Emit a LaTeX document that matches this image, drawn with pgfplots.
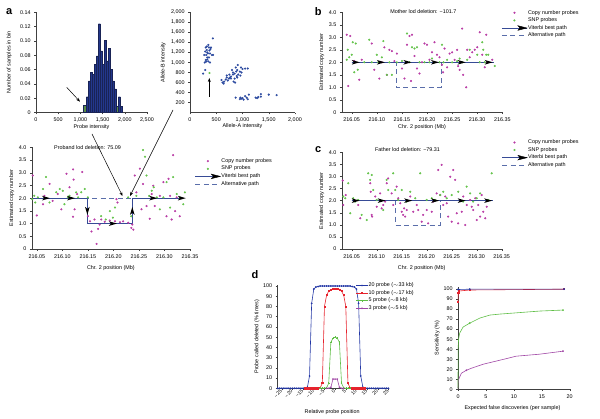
\documentclass[border=0pt]{standalone}
\usepackage{pgfplots}
\pgfplotsset{compat=1.18}
\usetikzlibrary{arrows.meta}
\usepackage{fontspec}
\setmainfont{Liberation Sans}
\newcommand\fs{\fontsize{5.4}{6.2}\selectfont}

\definecolor{cnv}{RGB}{185,60,165}
\definecolor{snp}{RGB}{100,195,75}
\definecolor{vit}{RGB}{55,75,150}
\definecolor{alt}{RGB}{90,110,170}
\definecolor{barF}{RGB}{35,55,140}
\definecolor{barE}{RGB}{25,35,85}
\definecolor{gbar}{RGB}{90,140,70}
\definecolor{pts}{RGB}{45,75,160}
\definecolor{dblue}{RGB}{35,55,165}
\definecolor{dred}{RGB}{230,35,45}
\definecolor{dgreen}{RGB}{95,190,70}
\definecolor{dpurp}{RGB}{160,70,165}

% arrowhead marks for the Viterbi path
\pgfdeclareplotmark{arR}{%
  \pgfpathmoveto{\pgfqpoint{4pt}{0pt}}\pgfpathlineto{\pgfqpoint{-4pt}{2.3pt}}%
  \pgfpathlineto{\pgfqpoint{-2pt}{0pt}}\pgfpathlineto{\pgfqpoint{-4pt}{-2.3pt}}%
  \pgfpathclose\pgfusepathqfill}
\pgfdeclareplotmark{arD}{%
  \pgfpathmoveto{\pgfqpoint{0pt}{-4pt}}\pgfpathlineto{\pgfqpoint{2.3pt}{4pt}}%
  \pgfpathlineto{\pgfqpoint{0pt}{2pt}}\pgfpathlineto{\pgfqpoint{-2.3pt}{4pt}}%
  \pgfpathclose\pgfusepathqfill}
\pgfdeclareplotmark{arU}{%
  \pgfpathmoveto{\pgfqpoint{0pt}{4pt}}\pgfpathlineto{\pgfqpoint{2.3pt}{-4pt}}%
  \pgfpathlineto{\pgfqpoint{0pt}{-2pt}}\pgfpathlineto{\pgfqpoint{-2.3pt}{-4pt}}%
  \pgfpathclose\pgfusepathqfill}

\pgfplotsset{
  base/.style={scale only axis, anchor=south west, axis lines=left,
    axis line style={-,black!75,line width=0.4pt}, tick align=outside,
    major tick length=1.8pt, tick style={black!75,line width=0.4pt},
    clip=false, font=\fs, ticklabel style={font=\fs}, label style={font=\fs},
    /pgf/number format/assume math mode=true,
    xlabel style={anchor=center}, ylabel style={anchor=center},
    legend cell align=left,
    legend style={draw=none, fill=none, inner sep=0pt, outer sep=0pt,
      row sep=0.6pt, font=\fs, nodes={inner sep=0.8pt}}},
  leg25/.style={legend image code/.code={\draw[mark repeat=2,mark phase=2,##1]
    plot coordinates {(0pt,0pt) (12.5pt,0pt) (25pt,0pt)};}},
  leg11/.style={legend image code/.code={\draw[mark repeat=2,mark phase=2,##1]
    plot coordinates {(0pt,0pt) (5.5pt,0pt) (11pt,0pt)};}},
  cnplot/.style={base, ymin=0, ymax=4, ytick={0,0.5,1,1.5,2,2.5,3,3.5,4},
    yticklabels={0,0.5,1.0,1.5,2.0,2.5,3.0,3.5,4.0},
    xtick={216.05,216.1,216.15,216.2,216.25,216.3,216.35},
    xticklabels={216.05,216.10,216.15,216.20,216.25,216.30,216.35},
    xlabel={Chr. 2 position (Mb)}, ylabel={Estimated copy number}, leg25},
  cn/.style={only marks, mark=*, mark size=0.85pt, cnv},
  sn/.style={only marks, mark=*, mark size=0.85pt, snp},
  vitline/.style={vit, line width=0.6pt, no marks},
  altline/.style={alt, line width=0.5pt, dash pattern=on 5pt off 3.5pt, no marks},
  vitleg/.style={legend image code/.code={\draw[vit,line width=0.6pt] (0pt,0pt)--(25pt,0pt);
    \fill[black] (25pt,0pt)--(16pt,2.3pt)--(18pt,0pt)--(16pt,-2.3pt)--cycle;}},
}

\begin{document}
\begin{tikzpicture}[x=1pt,y=1pt,font=\fs]
\useasboundingbox (0,0) rectangle (600,419);

% ---------- a: histogram
\begin{axis}[base, at={(36pt,306.5pt)}, width=111pt, height=100.2pt,
  xmin=0, xmax=2500, ymin=0, ymax=0.14,
  xtick={0,500,1000,1500,2000,2500}, xticklabels={0,500,{1,000},{1,500},{2,000},{2,500}},
  ytick={0,0.02,0.04,0.06,0.08,0.1,0.12,0.14},
  yticklabels={0,0.02,0.04,0.06,0.08,0.10,0.12,0.14},
  xlabel={Probe intensity}, ylabel={Number of samples in bin},
  xlabel style={at={(axis description cs:0.5,-0.142)}},
  ylabel style={at={(axis description cs:-0.241,0.5)}}]
\addplot[ybar interval, fill=gbar, draw=barE, line width=0.3pt] coordinates {(1060,0.010) (1135,0.010)};
\addplot[ybar interval, fill=barF, draw=barE, line width=0.3pt] coordinates {
  (1135,0.022) (1180,0.044) (1225,0.056) (1270,0.053) (1315,0.0675) (1360,0.079)
  (1405,0.124) (1450,0.086) (1495,0.0675) (1540,0.101) (1585,0.072) (1630,0.090)
  (1675,0.060) (1720,0.044) (1765,0.033) (1810,0.033)};
\addplot[ybar interval, fill=gbar, draw=barE, line width=0.3pt] coordinates {(1810,0.009) (1855,0.009)};
\addplot[ybar interval, fill=barF, draw=barE, line width=0.3pt] coordinates {(1855,0.022) (1900,0.009) (1945,0.009)};
\end{axis}

% ---------- a: allele scatter
\begin{axis}[base, at={(190pt,306.3pt)}, width=105pt, height=100.4pt,
  xmin=0, xmax=2000, ymin=0, ymax=2000,
  xtick={0,500,1000,1500,2000}, xticklabels={0,500,{1,000},{1,500},{2,000}},
  ytick={200,400,...,2000},
  yticklabels={200,400,600,800,{1,000},{1,200},{1,400},{1,600},{1,800},{2,000}},
  xlabel={Allele-A intensity}, ylabel={Allele-B intensity},
  xlabel style={at={(axis description cs:0.5,-0.132)}},
  ylabel style={at={(axis description cs:-0.254,0.5)}}]
\addplot[only marks, mark=*, mark size=0.85pt, pts] coordinates {
  (270,1150) (300,1300) (320,1250) (330,1200) (350,1350) (360,1100) (380,1000)
  (300,1050) (340,1180) (400,1300) (420,1150) (310,1020) (290,1220) (370,1240)
  (330,1100) (350,1020) (380,1180) (440,1150) (390,1270) (320,1320) (360,1300)
  (280,1000) (434,1480) (250,780) (290,850) (330,1060) (310,1150)
  (600,650) (620,600) (650,620) (700,700) (720,640) (750,760) (780,720) (800,850)
  (820,800) (850,780) (870,900) (880,820) (900,850) (920,760) (950,820) (970,900)
  (1050,880) (780,680) (830,620) (860,600) (700,740) (760,700) (680,660) (900,700)
  (850,680) (910,950) (640,580) (980,800) (890,730) (1000,870) (1100,880) (820,760)
  (740,680) (960,740)
  (870,300) (950,270) (980,280) (1000,290) (1050,330) (1080,300) (1100,270)
  (1250,300) (1300,310) (1350,320) (1350,370) (1500,360) (1650,350) (960,300)
  (1020,260) (1120,360) (1280,290)};
\addplot[only marks, mark=*, mark size=0.85pt, snp] coordinates {(370,790)};
\end{axis}

% ---------- b: mother
\begin{axis}[cnplot, at={(341.7pt,306.7pt)}, width=160.6pt, height=100pt,
  xmin=216.03, xmax=216.35,
  xlabel style={at={(axis description cs:0.5,-0.144)}},
  ylabel style={at={(axis description cs:-0.125,0.5)}},
  legend style={at={(axis description cs:0.996,1.03)}, anchor=north west}]
\addlegendimage{cn}\addlegendentry{Copy number probes}
\addlegendimage{sn}\addlegendentry{SNP probes}
\addlegendimage{vitleg}\addlegendentry{Viterbi best path}
\addlegendimage{altline}\addlegendentry{Alternative path}
\addplot[altline, forget plot] coordinates {(216.05,2) (216.138,2) (216.138,1) (216.228,1) (216.228,2) (216.333,2)};
\addplot[vitline, forget plot] coordinates {(216.05,2) (216.333,2)};
\addplot[cn, forget plot] coordinates {
  (216.04,3.1) (216.043,1.05) (216.047,3.05) (216.055,2.05) (216.065,1.3) (216.07,2.1)
  (216.09,2.75) (216.095,1.7) (216.105,1.35) (216.11,2.0) (216.115,2.6) (216.12,1.5)
  (216.125,2.5) (216.13,2.45) (216.135,2.05) (216.14,2.35) (216.15,1.75) (216.155,1.35)
  (216.16,2.7) (216.165,3.05) (216.168,1.25) (216.17,3.1) (216.175,2.25) (216.18,1.75)
  (216.185,1.55) (216.19,2.0) (216.195,2.75) (216.2,2.7) (216.205,2.1) (216.21,2.4)
  (216.215,2.8) (216.22,2.3) (216.225,2.2) (216.23,1.9) (216.232,1.6) (216.235,2.55)
  (216.24,1.8) (216.245,2.35) (216.25,2.4) (216.255,2.1) (216.26,2.5) (216.262,1.85)
  (216.265,1.7) (216.27,3.35) (216.272,1.5) (216.278,1.0) (216.28,2.5) (216.285,2.2)
  (216.29,2.4) (216.295,2.5) (216.3,2.6) (216.305,3.2) (216.31,2.3) (216.315,1.8)
  (216.318,3.1) (216.32,2.0) (216.33,2.1)};
\addplot[sn, forget plot] coordinates {
  (216.04,2.1) (216.042,2.5) (216.045,2.2) (216.05,2.3) (216.052,2.8) (216.055,1.6)
  (216.058,2.75) (216.062,1.7) (216.075,2.0) (216.085,2.9) (216.09,2.0) (216.1,2.3)
  (216.103,2.0) (216.11,2.2) (216.113,2.85) (216.12,1.5) (216.125,2.0) (216.13,1.5)
  (216.14,2.0) (216.15,2.05) (216.16,3.15) (216.165,2.0) (216.17,2.6) (216.175,2.55)
  (216.18,2.6) (216.185,2.0) (216.195,2.0) (216.205,2.0) (216.21,2.15) (216.215,2.0)
  (216.225,2.0) (216.23,2.7) (216.233,2.0) (216.24,2.1) (216.25,2.0) (216.26,2.05)
  (216.265,2.15) (216.27,2.0) (216.28,2.1) (216.285,2.5) (216.3,2.3) (216.305,2.0)
  (216.31,2.8) (216.312,2.5) (216.315,2.0) (216.318,2.3) (216.322,2.3) (216.335,1.85)};
\addplot[only marks, mark=arR, black, forget plot] coordinates {
  (216.058,2) (216.108,2) (216.161,2) (216.216,2) (216.269,2) (216.323,2)};
\end{axis}

% ---------- a: proband
\begin{axis}[cnplot, at={(31.7pt,170pt)}, width=158.3pt, height=101.7pt,
  xmin=216.04, xmax=216.35,
  xlabel style={at={(axis description cs:0.5,-0.184)}},
  ylabel style={at={(axis description cs:-0.126,0.5)}},
  legend style={at={(axis description cs:1.032,0.898)}, anchor=north west}]
\addlegendimage{cn}\addlegendentry{Copy number probes}
\addlegendimage{sn}\addlegendentry{SNP probes}
\addlegendimage{vitleg}\addlegendentry{Viterbi best path}
\addlegendimage{altline}\addlegendentry{Alternative path}
\addplot[altline, forget plot] coordinates {(216.042,2) (216.335,2)};
\addplot[vitline, forget plot] coordinates {(216.042,2) (216.149,2) (216.149,1) (216.237,1) (216.237,2) (216.335,2)};
\addplot[cn, forget plot] coordinates {
  (216.042,2.89) (216.05,1.32) (216.062,1.76) (216.065,2.09) (216.075,2.56) (216.081,1.89)
  (216.091,2.16) (216.098,1.56) (216.108,2.96) (216.114,2.43) (216.121,3.13) (216.122,2.73)
  (216.121,1.27) (216.124,1.56) (216.129,2.16) (216.139,3.03) (216.15,1.29) (216.154,1.09)
  (216.157,0.69) (216.163,1.16) (216.167,0.20) (216.17,0.79) (216.173,0.96) (216.176,1.16)
  (216.183,1.07) (216.193,1.12) (216.203,1.09) (216.206,1.96) (216.208,1.83) (216.213,1.05)
  (216.219,1.09) (216.229,1.03) (216.235,0.83) (216.237,0.96) (216.239,0.76) (216.242,2.89)
  (216.245,2.23) (216.252,3.16) (216.255,1.56) (216.258,2.56) (216.265,1.69) (216.271,1.19)
  (216.275,2.16) (216.278,2.49) (216.281,1.69) (216.291,2.09) (216.298,2.63) (216.304,1.29)
  (216.308,2.76) (216.311,2.09) (216.314,1.16) (216.317,3.69) (216.321,1.49) (216.324,2.03)
  (216.33,1.29)};
\addplot[sn, forget plot] coordinates {
  (216.041,1.96) (216.045,2.09) (216.047,1.83) (216.052,2.03) (216.062,2.36) (216.068,2.83)
  (216.075,1.83) (216.088,2.23) (216.095,2.36) (216.101,2.29) (216.104,1.76) (216.111,2.03)
  (216.114,2.09) (216.127,2.23) (216.131,2.03) (216.137,2.23) (216.144,2.36) (216.15,2.03)
  (216.176,1.29) (216.185,1.16) (216.193,1.49) (216.199,1.23) (216.203,1.63) (216.229,2.03)
  (216.235,1.29) (216.245,2.09) (216.258,3.89) (216.262,3.63) (216.265,2.89) (216.27,2.09)
  (216.275,2.29) (216.279,2.43) (216.285,2.03) (216.291,1.56) (216.298,2.03) (216.304,2.63)
  (216.311,1.63) (216.317,2.83) (216.324,2.16) (216.33,2.03) (216.337,1.76) (216.34,2.23)};
\addplot[only marks, mark=arR, black, forget plot] coordinates {
  (216.068,2) (216.117,2) (216.199,1) (216.278,2) (216.334,2)};
\addplot[only marks, mark=arD, black, forget plot] coordinates {(216.149,1.5)};
\addplot[only marks, mark=arU, black, forget plot] coordinates {(216.237,1.5)};
\end{axis}

% ---------- c: father
\begin{axis}[cnplot, at={(341.7pt,170pt)}, width=160pt, height=96.7pt,
  xmin=216.03, xmax=216.35,
  xlabel style={at={(axis description cs:0.5,-0.193)}},
  ylabel style={at={(axis description cs:-0.125,0.5)}},
  legend style={at={(axis description cs:1.0,1.138)}, anchor=north west}]
\addlegendimage{cn}\addlegendentry{Copy number probes}
\addlegendimage{sn}\addlegendentry{SNP probes}
\addlegendimage{vitleg}\addlegendentry{Viterbi best path}
\addlegendimage{altline}\addlegendentry{Alternative path}
\addplot[altline, forget plot] coordinates {(216.05,2) (216.137,2) (216.137,1) (216.227,1) (216.227,2) (216.333,2)};
\addplot[vitline, forget plot] coordinates {(216.05,2) (216.333,2)};
\addplot[cn, forget plot] coordinates {
  (216.032,2.83) (216.033,1.82) (216.038,2.23) (216.063,1.82) (216.067,1.27) (216.087,2.72)
  (216.088,2.37) (216.09,1.41) (216.091,1.34) (216.097,2.17) (216.1,1.75) (216.107,2.30)
  (216.11,1.68) (216.113,1.82) (216.117,1.96) (216.12,2.72) (216.123,2.92) (216.13,2.30)
  (216.133,1.82) (216.14,2.58) (216.143,2.10) (216.147,1.89) (216.15,1.54) (216.153,1.41)
  (216.155,1.68) (216.157,1.34) (216.16,1.61) (216.167,2.17) (216.173,1.54) (216.18,1.82)
  (216.183,1.61) (216.19,1.13) (216.193,1.41) (216.2,1.61) (216.203,1.06) (216.21,1.54)
  (216.213,1.96) (216.22,2.30) (216.223,3.27) (216.227,2.23) (216.23,3.48) (216.233,1.82)
  (216.237,2.17) (216.24,1.89) (216.243,1.34) (216.247,2.99) (216.25,1.13) (216.253,3.27)
  (216.257,2.86) (216.26,1.48) (216.263,1.06) (216.27,1.54) (216.273,2.17) (216.277,0.99)
  (216.28,1.82) (216.287,2.03) (216.29,1.75) (216.293,1.61) (216.297,2.10) (216.3,1.20)
  (216.303,1.82) (216.307,1.34) (216.31,2.23) (216.313,1.54) (216.317,1.27) (216.32,1.75)};
\addplot[sn, forget plot] coordinates {
  (216.033,2.17) (216.037,2.10) (216.043,2.72) (216.047,1.48) (216.053,2.10) (216.057,1.96)
  (216.063,2.03) (216.07,1.41) (216.08,1.20) (216.083,3.13) (216.087,2.86) (216.09,3.06)
  (216.093,2.44) (216.1,2.03) (216.113,1.61) (216.12,2.86) (216.123,2.44) (216.133,3.13)
  (216.137,2.44) (216.143,2.03) (216.15,2.44) (216.16,1.96) (216.167,2.37) (216.177,2.10)
  (216.187,3.13) (216.2,2.03) (216.21,2.10) (216.217,2.03) (216.227,2.23) (216.233,2.37)
  (216.24,2.10) (216.25,2.23) (216.263,2.37) (216.273,1.96) (216.28,2.58) (216.287,2.30)
  (216.293,1.96) (216.3,2.10) (216.307,2.30) (216.323,2.03) (216.33,3.13)};
\addplot[only marks, mark=arR, black, forget plot] coordinates {
  (216.058,2) (216.11,2) (216.163,2) (216.217,2) (216.27,2) (216.323,2)};
\end{axis}

% ---------- d: left
\begin{axis}[base, leg11, at={(277.5pt,30.7pt)}, width=111pt, height=103.3pt,
  xmin=-27, xmax=25, ymin=0, ymax=101,
  xtick={-25,-20,...,25}, xticklabels={−25,−20,−15,−10,−5,0,5,10,15,20,25},
  xticklabel style={rotate=45, anchor=east, font=\fontsize{5}{6}\selectfont, inner sep=0.8pt},
  ytick={0,10,...,100},
  xlabel={Relative probe position}, ylabel={Probe called deleted (\% times)},
  xlabel style={at={(axis description cs:0.492,-0.227)}},
  ylabel style={at={(axis description cs:-0.186,0.5)}},
  legend style={at={(axis description cs:0.709,1.029)}, anchor=north west}]
\addplot[dblue, line width=0.6pt, mark=*, mark size=0.55pt] coordinates {
  (-27,0) (-26,0) (-25,0) (-24,0) (-23,0) (-22,0) (-21,0) (-20,0) (-19,0) (-18,0)
  (-17,0) (-16,0) (-15,0) (-14,0) (-13,1) (-12,12) (-11,83) (-10,97) (-9,99) (-8,99.5)
  (-7,100) (-6,100) (-5,100) (-4,100) (-3,100) (-2,100) (-1,100) (0,100) (1,100) (2,100)
  (3,100) (4,100) (5,100) (6,100) (7,100) (8,99.5) (9,99) (10,97) (11,83) (12,12)
  (13,1) (14,0) (15,0) (16,0) (17,0) (18,0) (19,0) (20,0) (21,0) (22,0) (23,0) (24,0) (25,0)};
\addlegendentry{20 probe ($\sim$33 kb)}
\addplot[dred, line width=0.6pt, mark=square*, mark size=0.55pt] coordinates {
  (-14,0) (-13,0) (-12,0) (-11,0) (-10,0) (-9,0) (-8,0) (-7,0.5) (-6,5) (-5,80) (-4,91)
  (-3,95) (-2,96.5) (-1,97) (0,97) (1,97) (2,96.5) (3,95) (4,91) (5,80) (6,5) (7,0.5)
  (8,0) (9,0) (10,0) (11,0) (12,0) (13,0) (14,0)};
\addlegendentry{10 probe ($\sim$17 kb)}
\addplot[dgreen, line width=0.6pt, mark=+, mark size=0.8pt] coordinates {
  (-7,0) (-6,0) (-5,0) (-4,0.5) (-3,5) (-2,45) (-1,49) (0,50) (1,49) (2,45) (3,5)
  (4,0.5) (5,0) (6,0) (7,0)};
\addlegendentry{5 probe ($\sim$8 kb)}
\addplot[dpurp, line width=0.6pt, mark=x, mark size=0.8pt] coordinates {
  (-4,0) (-3,0) (-2,1) (-1,9) (0,9) (1,9) (2,1) (3,0) (4,0)};
\addlegendentry{3 probe ($\sim$5 kb)}
\end{axis}

% ---------- d: right
\begin{axis}[base, at={(458pt,29.7pt)}, width=111.7pt, height=102.3pt,
  xmin=0, xmax=20, ymin=0, ymax=102,
  xtick={0,5,10,15,20}, ytick={0,10,...,100},
  xlabel={Expected false discoveries (per sample)}, ylabel={Sensitivity (\%)},
  xlabel style={at={(axis description cs:0.488,-0.18)}},
  ylabel style={at={(axis description cs:-0.185,0.5)}}]
\addplot[dpurp, line width=0.6pt, mark=*, mark size=0.55pt, mark indices={4,10}] coordinates {
  (0,1) (0.05,9) (0.6,16) (1.5,19) (2.4,21) (4.5,25) (7.5,29) (10.4,33) (14.6,35) (18.8,38)};
\addplot[dgreen, line width=0.6pt, mark=*, mark size=0.55pt, mark indices={6,12}] coordinates {
  (0,1) (0.02,40) (0.1,50) (0.3,56) (0.9,62) (2.1,66) (3.9,71) (5.7,74) (7.5,75)
  (9.9,76) (14.6,78) (18.8,79)};
\addplot[dred, line width=0.6pt, mark=square*, mark size=0.55pt] coordinates {
  (0,87) (0.05,96) (0.2,98) (2.1,99) (19,99.8)};
\addplot[dblue, line width=0.6pt, mark=*, mark size=0.6pt] coordinates {
  (0,99.5) (2.1,99.8) (19,99.9)};
\end{axis}

% ---------- annotations
\node[font=\fs] at (423.3,407.3) {Mother lod deletion: −101.7};
\node[font=\fs] at (87.5,271.7) {Proband lod deletion: 75.09};
\node[font=\fs] at (407.5,269) {Father lod deletion: −79.31};
\draw[-{Stealth[length=4pt,width=3pt]}, line width=0.5pt] (92,285) -- (122.5,223);
\draw[-{Stealth[length=4pt,width=3pt]}, line width=0.5pt] (173,309) -- (130,223);
\draw[-{Stealth[length=4pt,width=3pt]}, line width=0.5pt] (66.7,331.7) -- (80,317.3);
\draw[-{Stealth[length=4pt,width=3pt]}, line width=0.5pt] (209.3,322.3) -- (209.3,341);
\node[font=\fontsize{11}{12}\selectfont\bfseries] at (9.3,407.3) {a};
\node[font=\fontsize{11}{12}\selectfont\bfseries] at (318.3,407.3) {b};
\node[font=\fontsize{11}{12}\selectfont\bfseries] at (318.3,269) {c};
\node[font=\fontsize{11}{12}\selectfont\bfseries] at (255,144) {d};
\end{tikzpicture}
\end{document}
